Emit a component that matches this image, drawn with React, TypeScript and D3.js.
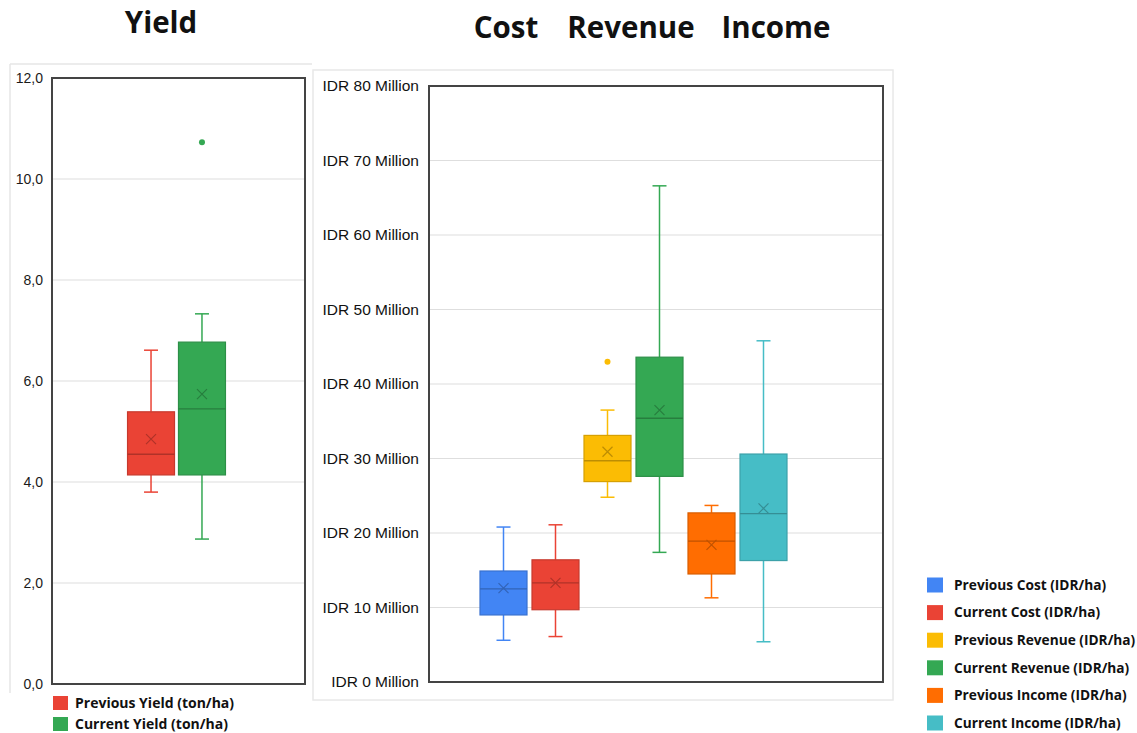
import React from "react";
import * as d3 from "d3";

// ---- Yield (ton/ha) ----
const yieldSeries = ["Previous Yield (ton/ha)", "Current Yield (ton/ha)"];
const yieldColors = ["#EA4335", "#34A853"];
const yieldMin = [3.8, 2.87];
const yieldQ1 = [4.14, 4.14];
const yieldMedian = [4.55, 5.45];
const yieldQ3 = [5.39, 6.77];
const yieldMax = [6.61, 7.33];
const yieldMean = [4.85, 5.74];
const yieldOutliers = [[], [10.73]];
const yieldTicks = [0, 2, 4, 6, 8, 10, 12];

// ---- Cost / Revenue / Income (IDR million per ha) ----
const moneySeries = [
  "Previous Cost (IDR/ha)",
  "Current Cost (IDR/ha)",
  "Previous Revenue (IDR/ha)",
  "Current Revenue (IDR/ha)",
  "Previous Income (IDR/ha)",
  "Current Income (IDR/ha)",
];
const moneyColors = ["#4285F4", "#EA4335", "#FBBC04", "#34A853", "#FF6D01", "#46BDC6"];
const moneyMin = [5.6, 6.1, 24.8, 17.4, 11.3, 5.4];
const moneyQ1 = [9.0, 9.7, 26.9, 27.6, 14.5, 16.3];
const moneyMedian = [12.5, 13.3, 29.7, 35.4, 18.9, 22.6];
const moneyQ3 = [14.9, 16.4, 33.1, 43.6, 22.7, 30.6];
const moneyMax = [20.8, 21.1, 36.5, 66.6, 23.7, 45.8];
const moneyMean = [12.6, 13.3, 30.9, 36.5, 18.4, 23.3];
const moneyOutliers = [[], [], [43.0], [], [], []];
const moneyTicks = [0, 10, 20, 30, 40, 50, 60, 70, 80];

const AXIS_FONT = "'Liberation Sans', Arial, sans-serif";
const LABEL_FONT = "'Open Sans', 'Noto Sans', sans-serif";

type BoxProps = {
  cx: number;
  bw: number;
  y: d3.ScaleLinear<number, number>;
  color: string;
  min: number;
  q1: number;
  median: number;
  q3: number;
  max: number;
  mean: number;
  outliers: number[];
};

function Box({ cx, bw, y, color, min, q1, median, q3, max, mean, outliers }: BoxProps) {
  const dark = d3.color(color)!.darker(0.45).formatHex();
  const darker = d3.color(color)!.darker(0.8).formatHex();
  const cap = 7;
  const m = 5;
  const my = y(mean);
  return (
    <g>
      <line x1={cx} x2={cx} y1={y(max)} y2={y(q3)} stroke={color} strokeWidth={1.5} />
      <line x1={cx} x2={cx} y1={y(q1)} y2={y(min)} stroke={color} strokeWidth={1.5} />
      <line x1={cx - cap} x2={cx + cap} y1={y(max)} y2={y(max)} stroke={color} strokeWidth={1.5} />
      <line x1={cx - cap} x2={cx + cap} y1={y(min)} y2={y(min)} stroke={color} strokeWidth={1.5} />
      <rect
        x={cx - bw / 2}
        y={y(q3)}
        width={bw}
        height={y(q1) - y(q3)}
        fill={color}
        stroke={dark}
        strokeWidth={1.2}
      />
      <line x1={cx - bw / 2} x2={cx + bw / 2} y1={y(median)} y2={y(median)} stroke={darker} strokeWidth={1.3} />
      <path
        d={`M${cx - m},${my - m}L${cx + m},${my + m}M${cx - m},${my + m}L${cx + m},${my - m}`}
        stroke={darker}
        strokeWidth={1.2}
        fill="none"
      />
      {outliers.map((o, i) => (
        <circle key={i} cx={cx} cy={y(o)} r={3} fill={color} />
      ))}
    </g>
  );
}

export default function App() {
  // Left panel: yield
  const yL = d3.scaleLinear().domain([0, 12]).range([684, 78]);
  const xL = d3.scaleBand<string>().domain(yieldSeries).range([125.5, 227.5]).paddingInner(0.078).paddingOuter(0.04);
  const leftPlot = { x0: 52, x1: 305, y0: 78, y1: 684 };

  // Right panel: cost, revenue, income
  const yR = d3.scaleLinear().domain([0, 80]).range([682, 86]);
  const xR = d3.scaleBand<string>().domain(moneySeries).range([477.5, 789.5]).paddingInner(0.096).paddingOuter(0.048);
  const rightPlot = { x0: 429, x1: 883, y0: 86, y1: 682 };

  const legendY = d3.scalePoint<string>().domain(moneySeries).range([585, 723]);
  const yieldLegendY = d3.scalePoint<string>().domain(yieldSeries).range([703, 724]);

  return (
    <svg width={1137} height={733} style={{ position: "absolute", left: 0, top: 0, background: "#fff" }}>
      <rect x={0} y={0} width={1137} height={733} fill="#fff" />

      {/* Titles */}
      <g fontFamily={LABEL_FONT} fontWeight={700} fontSize={29.5} fill="#111">
        <text x={161} y={33} textAnchor="middle">Yield</text>
        <text x={506} y={38} textAnchor="middle">Cost</text>
        <text x={631} y={38} textAnchor="middle">Revenue</text>
        <text x={776} y={38} textAnchor="middle">Income</text>
      </g>

      {/* Left panel frame */}
      <line x1={10} x2={312} y1={64} y2={64} stroke="#e6e6e6" strokeWidth={1.5} />
      <line x1={10} x2={10} y1={64} y2={693} stroke="#e6e6e6" strokeWidth={1.5} />

      {/* Left gridlines and ticks */}
      {yieldTicks.map((t) => (
        <g key={t}>
          {t > 0 && t < 12 && (
            <line x1={leftPlot.x0} x2={leftPlot.x1} y1={yL(t)} y2={yL(t)} stroke="#dedede" strokeWidth={1.2} />
          )}
          <text
            x={43}
            y={yL(t)}
            dy="0.35em"
            textAnchor="end"
            fontFamily={AXIS_FONT}
            fontSize={14}
            fill="#1a1a1a"
          >
            {d3.format(".1f")(t).replace(".", ",")}
          </text>
        </g>
      ))}
      <rect
        x={leftPlot.x0}
        y={leftPlot.y0}
        width={leftPlot.x1 - leftPlot.x0}
        height={leftPlot.y1 - leftPlot.y0}
        fill="none"
        stroke="#444"
        strokeWidth={2}
      />

      {yieldSeries.map((s, i) => (
        <Box
          key={s}
          cx={xL(s)! + xL.bandwidth() / 2}
          bw={xL.bandwidth()}
          y={yL}
          color={yieldColors[i]}
          min={yieldMin[i]}
          q1={yieldQ1[i]}
          median={yieldMedian[i]}
          q3={yieldQ3[i]}
          max={yieldMax[i]}
          mean={yieldMean[i]}
          outliers={yieldOutliers[i]}
        />
      ))}

      {/* Left legend */}
      {yieldSeries.map((s, i) => (
        <g key={s} transform={`translate(53,${yieldLegendY(s)})`}>
          <rect x={0} y={-7} width={15} height={14} fill={yieldColors[i]} />
          <text x={22} y={0} dy="0.35em" fontFamily={LABEL_FONT} fontWeight={700} fontSize={14} fill="#111">
            {s}
          </text>
        </g>
      ))}

      {/* Right panel frame */}
      <rect x={313} y={70} width={580} height={630} fill="none" stroke="#e8e8e8" strokeWidth={1.5} />

      {moneyTicks.map((t) => (
        <g key={t}>
          {t > 0 && t < 80 && (
            <line x1={rightPlot.x0} x2={rightPlot.x1} y1={yR(t)} y2={yR(t)} stroke="#dedede" strokeWidth={1.2} />
          )}
          <text
            x={419}
            y={yR(t)}
            dy="0.35em"
            textAnchor="end"
            fontFamily={AXIS_FONT}
            fontSize={15.5}
            fill="#111"
          >
            {`IDR ${t} Million`}
          </text>
        </g>
      ))}
      <rect
        x={rightPlot.x0}
        y={rightPlot.y0}
        width={rightPlot.x1 - rightPlot.x0}
        height={rightPlot.y1 - rightPlot.y0}
        fill="none"
        stroke="#444"
        strokeWidth={2}
      />

      {moneySeries.map((s, i) => (
        <Box
          key={s}
          cx={xR(s)! + xR.bandwidth() / 2}
          bw={xR.bandwidth()}
          y={yR}
          color={moneyColors[i]}
          min={moneyMin[i]}
          q1={moneyQ1[i]}
          median={moneyMedian[i]}
          q3={moneyQ3[i]}
          max={moneyMax[i]}
          mean={moneyMean[i]}
          outliers={moneyOutliers[i]}
        />
      ))}

      {/* Right legend */}
      {moneySeries.map((s, i) => (
        <g key={s} transform={`translate(927,${legendY(s)})`}>
          <rect x={0} y={-7.5} width={16} height={15} fill={moneyColors[i]} />
          <text x={27} y={0} dy="0.35em" fontFamily={LABEL_FONT} fontWeight={700} fontSize={13.7} fill="#111">
            {s}
          </text>
        </g>
      ))}
    </svg>
  );
}
